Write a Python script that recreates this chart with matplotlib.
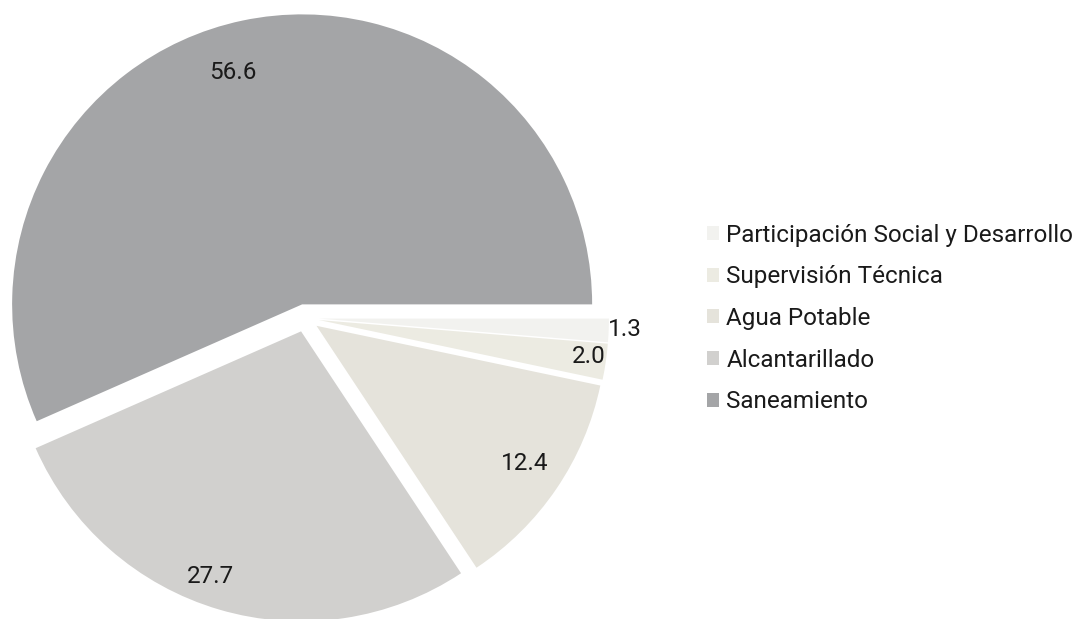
import matplotlib
matplotlib.use("Agg")
import matplotlib.pyplot as plt
import numpy as np

categories = ["Saneamiento", "Alcantarillado", "Agua Potable",
              "Supervisión Técnica", "Participación Social y Desarrollo"]
values = [56.6, 27.7, 12.4, 2.0, 1.3]
value_labels = ["56.6", "27.7", "12.4", "2.0", "1.3"]
colors = ["#a4a5a7", "#d1d0ce", "#e5e3db", "#ecebe2", "#f2f2ef"]

# label placement styles (fraction of radius, angular nudge in degrees)
label_dist = [0.835, 0.90, 0.86, 0.94, 1.055]
label_nudge = [4.7, -3.9, 0.8, 0.5, 0.3]

plt.rcParams['font.family'] = ['Roboto', 'DejaVu Sans']

W, H = 1076, 619
fig = plt.figure(figsize=(W / 100, H / 100), dpi=100)

cx, cy, R = 305, 318, 290  # pixel geometry of pie
L = 1.1
half = R * L
ax = fig.add_axes([(cx - half) / W, (H - cy - half) / H, 2 * half / W, 2 * half / H])

explode = [0.048] * len(values)
wedges, _ = ax.pie(values, colors=colors, startangle=0, counterclock=True,
                   explode=explode, radius=1.0, wedgeprops=dict(linewidth=0))
ax.set_xlim(-L, L)
ax.set_ylim(-L, L)
ax.set_aspect('equal')
ax.axis('off')

for w, lab, d, nud, ex in zip(wedges, value_labels, label_dist, label_nudge, explode):
    mid = np.deg2rad((w.theta1 + w.theta2) / 2)
    ang = np.deg2rad((w.theta1 + w.theta2) / 2 + nud)
    ox, oy = ex * np.cos(mid), ex * np.sin(mid)
    ax.text(ox + d * np.cos(ang), oy + d * np.sin(ang), lab,
            ha='center', va='center', fontsize=17.5, color='#1a1a1a')

leg = fig.legend(wedges[::-1], categories[::-1], loc='center left',
                 bbox_to_anchor=(707 / W, 1 - 318.5 / H), frameon=False,
                 fontsize=17.5, handlelength=0.5, handleheight=0.5,
                 handletextpad=0.3, labelspacing=0.77, borderaxespad=0,
                 borderpad=0)
for t in leg.get_texts():
    t.set_color('#1a1a1a')

fig.savefig("out.png", dpi=100)
